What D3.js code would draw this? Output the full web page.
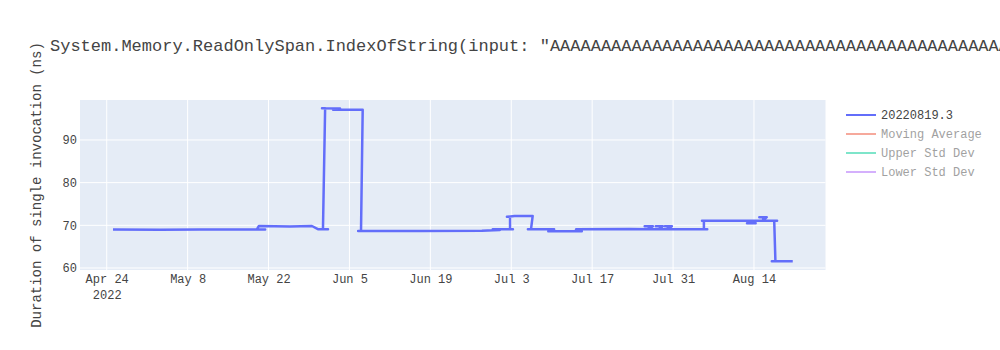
<!DOCTYPE html>
<html>
<head>
<meta charset="utf-8">
<script src="https://cdn.jsdelivr.net/npm/d3@7"></script>
<style>
  body { margin: 0; background: #fff; overflow: hidden; }
  svg { display: block; font-family: "Courier New", "Liberation Mono", monospace; }
  .axis path, .axis line { display: none; }
</style>
</head>
<body>
<div class="js-chart"></div>
<script>
// Benchmark runs (in the order the source plotted them) and their timings.
const runDates = [
  '2022-04-25T02:00', '2022-05-03T05:00', '2022-05-10T03:00', '2022-05-17T01:00', '2022-05-21T10:00',
  '2022-05-20T00:00', '2022-05-20T08:00', '2022-05-25T17:00', '2022-05-29T12:00', '2022-05-30T13:00',
  '2022-06-01T07:00', '2022-05-31T10:00', '2022-05-31T19:00', '2022-05-31T06:00', '2022-06-03T09:00',
  '2022-06-02T04:00', '2022-06-07T07:00', '2022-06-07T00:00', '2022-06-06T12:00', '2022-06-17T05:00',
  '2022-06-27T22:00', '2022-07-01T01:00', '2022-06-29T19:00', '2022-07-03T07:00', '2022-07-02T19:00',
  '2022-07-02T19:00', '2022-07-02T06:00', '2022-07-03T14:00', '2022-07-06T17:00', '2022-07-06T10:00',
  '2022-07-05T21:00', '2022-07-10T10:00', '2022-07-09T10:00', '2022-07-15T05:00', '2022-07-14T05:00',
  '2022-07-23T12:00',
  '2022-07-26T19:00', '2022-07-26T19:00', '2022-07-26T02:00', '2022-07-27T12:00', '2022-07-26T19:00',
  '2022-07-28T17:00', '2022-07-28T17:00', '2022-07-28T00:00', '2022-07-29T05:00', '2022-07-28T17:00',
  '2022-07-30T02:00', '2022-07-30T02:00', '2022-07-29T14:00', '2022-07-30T19:00', '2022-07-30T02:00',
  '2022-08-05T22:00', '2022-08-05T08:00', '2022-08-05T08:00', '2022-08-05T00:00', '2022-08-12T19:00',
  '2022-08-13T12:00', '2022-08-13T12:00', '2022-08-12T19:00', '2022-08-14T07:00', '2022-08-13T12:00',
  '2022-08-15T14:00', '2022-08-15T14:00', '2022-08-14T22:00', '2022-08-16T05:00', '2022-08-15T14:00',
  '2022-08-18T00:00', '2022-08-17T12:00', '2022-08-17T17:00', '2022-08-17T02:00', '2022-08-20T17:00'
];
const durations = [
  69.05, 68.95, 69.05, 69.0, 69.05,
  69.1, 69.84, 69.75, 69.84, 69.1,
  69.1, 69.1, 97.45, 97.45, 97.4,
  97.1, 97.1, 68.67, 68.67, 68.67,
  68.7, 68.9, 69.07, 69.07, 69.07,
  72.0, 72.0, 72.2, 72.2, 69.1,
  69.1, 69.07, 68.6, 68.6, 69.07,
  69.15,
  69.07, 69.8, 69.8, 69.8, 69.07,
  69.07, 69.8, 69.8, 69.8, 69.07,
  69.07, 69.8, 69.8, 69.8, 69.07,
  69.07, 69.07, 71.1, 71.1, 71.1,
  71.1, 70.5, 70.5, 70.5, 71.1,
  71.1, 71.9, 71.9, 71.9, 71.1,
  71.1, 71.1, 61.6, 61.6, 61.6
];

const tickDates = ['2022-04-24', '2022-05-08', '2022-05-22', '2022-06-05', '2022-06-19',
  '2022-07-03', '2022-07-17', '2022-07-31', '2022-08-14'];
const tickLabels = ['Apr 24', 'May 8', 'May 22', 'Jun 5', 'Jun 19', 'Jul 3', 'Jul 17', 'Jul 31', 'Aug 14'];
const yearLabel = '2022';
const yTicks = [60, 70, 80, 90];

const legendNames = ['20220819.3', 'Moving Average', 'Upper Std Dev', 'Lower Std Dev'];
const legendColors = ['#636efa', '#EF553B', '#00cc96', '#ab63fa'];
const legendVisible = [true, false, false, false];

const chartTitle = 'System.Memory.ReadOnlySpan.IndexOfString(input: "' + 'A'.repeat(100) +
  '", value: "A", comparisonType: Ordinal)';
const yTitle = 'Duration of single invocation (ns)';

const WIDTH = 1000;
const HEIGHT = 350;
const margin = {top: 100, right: 174.5, bottom: 80, left: 80};
const width = WIDTH - margin.left - margin.right;
const height = HEIGHT - margin.top - margin.bottom;
const FONT = '"Courier New", "Liberation Mono", monospace';

const parseTime = d3.utcParse('%Y-%m-%dT%H:%M');
const parseDay = d3.utcParse('%Y-%m-%d');

const svg = d3.select('.js-chart').append('svg')
  .attr('width', WIDTH)
  .attr('height', HEIGHT);

svg.append('text')
  .attr('x', 50)
  .attr('y', 51)
  .attr('font-size', 17)
  .attr('fill', '#444')
  .text(chartTitle);

const plotChart = svg.append('g')
  .attr('transform', 'translate(' + margin.left + ',' + margin.top + ')');

plotChart.append('rect')
  .attr('width', width)
  .attr('height', height)
  .attr('fill', '#e5ecf6');

// Set up X and Y scales.
const xScale = d3.scaleUtc()
  .domain([parseTime('2022-04-19T09:00'), parseTime('2022-08-26T09:00')])
  .range([0, width]);

const yScale = d3.scaleLinear()
  .domain([59.53, 99.37])
  .range([height, 0]);

// Grid lines.
plotChart.append('g')
  .selectAll('line')
  .data(tickDates)
  .join('line')
  .attr('x1', d => xScale(parseDay(d)))
  .attr('x2', d => xScale(parseDay(d)))
  .attr('y1', 0)
  .attr('y2', height)
  .attr('stroke', '#fff')
  .attr('stroke-width', 1);

plotChart.append('g')
  .selectAll('line')
  .data(yTicks)
  .join('line')
  .attr('x1', 0)
  .attr('x2', width)
  .attr('y1', d => yScale(d))
  .attr('y2', d => yScale(d))
  .attr('stroke', '#fff')
  .attr('stroke-width', 1);

// Axes.
const xAxis = d3.axisBottom(xScale)
  .tickValues(tickDates.map(parseDay))
  .tickSize(0)
  .tickPadding(0)
  .tickFormat((d, i) => tickLabels[i]);

const xAxisG = plotChart.append('g')
  .attr('class', 'x axis')
  .attr('transform', 'translate(0,' + height + ')')
  .call(xAxis);
xAxisG.selectAll('text')
  .attr('dy', null)
  .attr('y', 13)
  .attr('font-size', 12)
  .attr('font-family', FONT)
  .attr('fill', '#444');

// Year under the first tick, as plotly does.
xAxisG.select('.tick')
  .append('text')
  .attr('y', 29)
  .attr('text-anchor', 'middle')
  .attr('font-size', 12)
  .attr('font-family', FONT)
  .attr('fill', '#444')
  .text(yearLabel);

const yAxis = d3.axisLeft(yScale)
  .tickValues(yTicks)
  .tickSize(0)
  .tickPadding(3);

plotChart.append('g')
  .attr('class', 'y axis')
  .call(yAxis)
  .selectAll('text')
  .attr('font-size', 12)
  .attr('font-family', FONT)
  .attr('fill', '#444');

svg.append('text')
  .attr('transform', 'translate(41,' + (margin.top + height / 2) + ') rotate(-90)')
  .attr('text-anchor', 'middle')
  .attr('font-size', 14)
  .attr('fill', '#444')
  .text(yTitle);

// Render line.
const runs = runDates.map((d, i) => ({date: parseTime(d), value: durations[i]}));

const line = d3.line()
  .x(d => xScale(d.date))
  .y(d => yScale(d.value));

plotChart.append('path')
  .datum(runs)
  .attr('fill', 'none')
  .attr('stroke', legendColors[0])
  .attr('stroke-width', 2.5)
  .attr('stroke-linejoin', 'round')
  .attr('d', line);

// Legend.
const legend = svg.append('g')
  .attr('transform', 'translate(846,115)');

const items = legend.selectAll('g')
  .data(legendNames)
  .join('g')
  .attr('transform', (d, i) => 'translate(0,' + i * 19 + ')')
  .attr('opacity', (d, i) => legendVisible[i] ? 1 : 0.5);

items.append('line')
  .attr('x1', 0)
  .attr('x2', 30)
  .attr('stroke', (d, i) => legendColors[i])
  .attr('stroke-width', 2);

items.append('text')
  .attr('x', 35)
  .attr('y', 4)
  .attr('font-size', 12)
  .attr('fill', '#444')
  .text(d => d);
</script>
</body>
</html>
